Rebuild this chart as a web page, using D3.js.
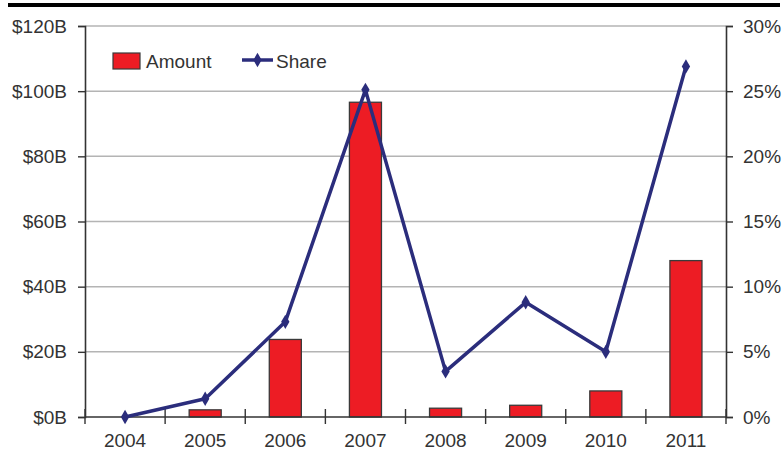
<!DOCTYPE html>
<html>
<head>
<meta charset="utf-8">
<script src="https://cdn.jsdelivr.net/npm/d3@7/dist/d3.min.js"></script>
<style>
  body { margin: 0; background: #fff; }
  svg text { font-family: "Liberation Sans", Arial, sans-serif; fill: #333; }
</style>
</head>
<body>
<svg id="chart" width="783" height="453"></svg>
<script>
// values
var years = ["2004", "2005", "2006", "2007", "2008", "2009", "2010", "2011"];
var amount = [0, 2.2, 23.8, 96.6, 2.7, 3.6, 8.0, 48.0];   // $B
var share = [0, 1.4, 7.3, 25.1, 3.5, 8.8, 5.0, 26.9];     // %
var amountTicks = [0, 20, 40, 60, 80, 100, 120];
var shareTicks = [0, 5, 10, 15, 20, 25, 30];

var svg = d3.select("#chart"),
    width = +svg.attr("width"),
    height = +svg.attr("height");

var margin = {top: 26, right: 57, bottom: 36, left: 85};
var x0 = margin.left, x1 = width - margin.right,
    y0 = height - margin.bottom, y1 = margin.top;

var x = d3.scaleBand().domain(years).range([x0, x1]).paddingInner(0.6).paddingOuter(0.3);
var xb = d3.scaleBand().domain(years).range([x0, x1]);
var yL = d3.scaleLinear().domain([0, 120]).range([y0, y1]);
var yR = d3.scaleLinear().domain([0, 30]).range([y0, y1]);

// thick rule on top
svg.append("rect")
    .attr("x", 8).attr("y", 3)
    .attr("width", 772).attr("height", 4)
    .attr("fill", "#000");

// gridlines
svg.append("g")
    .selectAll("line")
    .data(amountTicks.slice(1))
    .enter().append("line")
    .attr("x1", x0).attr("x2", x1)
    .attr("y1", function (d) { return yL(d); })
    .attr("y2", function (d) { return yL(d); })
    .attr("stroke", "#b4b4b4")
    .attr("stroke-width", 1.5);

// bars
svg.append("g")
    .selectAll("rect")
    .data(years)
    .enter().append("rect")
    .filter(function (d, i) { return amount[i] > 0; })
    .attr("x", function (d) { return x(d); })
    .attr("width", x.bandwidth())
    .attr("y", function (d) { return yL(amount[years.indexOf(d)]); })
    .attr("height", function (d) { return y0 - yL(amount[years.indexOf(d)]); })
    .attr("fill", "#ed1c24")
    .attr("stroke", "#3a3a3a")
    .attr("stroke-width", 1.3);

// axes
var leftAxis = svg.append("g")
    .attr("transform", "translate(" + x0 + ",0)")
    .call(d3.axisLeft(yL).tickValues(amountTicks).tickSize(7).tickPadding(11)
        .tickFormat(function (d) { return "$" + d + "B"; }));

var rightAxis = svg.append("g")
    .attr("transform", "translate(" + x1 + ",0)")
    .call(d3.axisRight(yR).tickValues(shareTicks).tickSize(7).tickPadding(10)
        .tickFormat(function (d) { return d + "%"; }));

var bottomAxis = svg.append("g")
    .attr("transform", "translate(0," + y0 + ")")
    .call(d3.axisBottom(xb).tickSize(0).tickPadding(17));

[leftAxis, rightAxis, bottomAxis].forEach(function (g) {
    g.select(".domain").attr("stroke", "#333").attr("stroke-width", 1.6);
    g.selectAll(".tick line").attr("stroke", "#333").attr("stroke-width", 1.4);
    g.selectAll(".tick text")
        .style("font-size", "19px")
        .style("font-family", "'Liberation Sans', Arial, sans-serif")
        .attr("fill", "#333");
});
bottomAxis.select(".domain").attr("d", "M" + x0 + ",0H" + x1);

// crossing ticks between categories
var bounds = years.map(function (d) { return xb(d); }).concat([x1]);
svg.append("g")
    .selectAll("line")
    .data(bounds)
    .enter().append("line")
    .attr("x1", function (d) { return d; })
    .attr("x2", function (d) { return d; })
    .attr("y1", y0 - 8).attr("y2", y0 + 7)
    .attr("stroke", "#333")
    .attr("stroke-width", 1.4);

// share line
var line = d3.line()
    .x(function (d, i) { return xb(years[i]) + xb.bandwidth() / 2; })
    .y(function (d) { return yR(d); });

svg.append("path")
    .datum(share)
    .attr("d", line)
    .attr("fill", "none")
    .attr("stroke", "#2b2d7c")
    .attr("stroke-width", 3.5)
    .attr("stroke-linejoin", "round");

var diamond = d3.symbol().type(d3.symbolDiamond).size(60);
svg.append("g")
    .selectAll("path")
    .data(share)
    .enter().append("path")
    .attr("d", diamond)
    .attr("transform", function (d, i) {
        return "translate(" + (xb(years[i]) + xb.bandwidth() / 2) + "," + yR(d) + ")";
    })
    .attr("fill", "#2b2d7c");

// legend
var legend = svg.append("g");
legend.append("rect")
    .attr("x", 113).attr("y", 53)
    .attr("width", 27).attr("height", 16)
    .attr("fill", "#ed1c24")
    .attr("stroke", "#3a3a3a")
    .attr("stroke-width", 1.2);
legend.append("text")
    .attr("x", 146).attr("y", 68)
    .style("font-size", "19px")
    .text("Amount");
legend.append("line")
    .attr("x1", 242).attr("x2", 273)
    .attr("y1", 60).attr("y2", 60)
    .attr("stroke", "#2b2d7c")
    .attr("stroke-width", 3.5);
legend.append("path")
    .attr("d", diamond)
    .attr("transform", "translate(257.5,60)")
    .attr("fill", "#2b2d7c");
legend.append("text")
    .attr("x", 276).attr("y", 68)
    .style("font-size", "19px")
    .text("Share");
</script>
</body>
</html>
